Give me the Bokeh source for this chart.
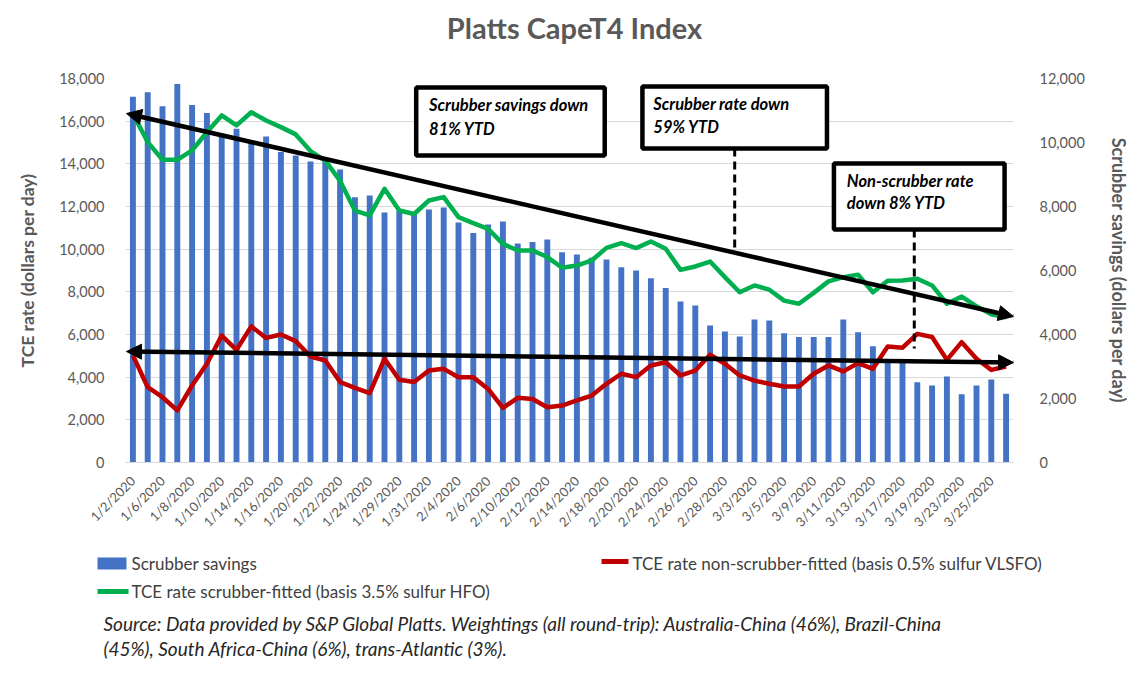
import math
from bokeh.plotting import figure
from bokeh.models import (Range1d, LinearAxis, FixedTicker, NumeralTickFormatter,
                          BoxAnnotation, Label, Arrow, NormalHead)
from bokeh.layouts import column
from bokeh.embed import file_html
from bokeh.resources import INLINE
from bokeh.core.properties import value

dates = ["1/2/2020", "1/3/2020", "1/6/2020", "1/7/2020", "1/8/2020", "1/9/2020", "1/10/2020",
         "1/13/2020", "1/14/2020", "1/15/2020", "1/16/2020", "1/17/2020", "1/20/2020", "1/21/2020",
         "1/22/2020", "1/23/2020", "1/24/2020", "1/27/2020", "1/29/2020", "1/30/2020", "1/31/2020",
         "2/3/2020", "2/4/2020", "2/5/2020", "2/6/2020", "2/7/2020", "2/10/2020", "2/11/2020",
         "2/12/2020", "2/13/2020", "2/14/2020", "2/17/2020", "2/18/2020", "2/19/2020", "2/20/2020",
         "2/21/2020", "2/24/2020", "2/25/2020", "2/26/2020", "2/27/2020", "2/28/2020", "3/2/2020",
         "3/3/2020", "3/4/2020", "3/5/2020", "3/6/2020", "3/9/2020", "3/10/2020", "3/11/2020",
         "3/12/2020", "3/13/2020", "3/16/2020", "3/17/2020", "3/18/2020", "3/19/2020", "3/20/2020",
         "3/23/2020", "3/24/2020", "3/25/2020", "3/26/2020"]

scrubber_savings = [11430, 11570, 11130, 11830, 11170, 10920, 10270, 10430, 10010, 10190,
                    9700, 9590, 9410, 9430, 9160, 8290, 8340, 7810, 7870, 7800,
                    7910, 7970, 7500, 7170, 7440, 7530, 6840, 6890, 6970, 6570,
                    6500, 6400, 6340, 6100, 6000, 5760, 5450, 5030, 4910, 4280,
                    4090, 3940, 4470, 4440, 4040, 3920, 3920, 3920, 4470, 4070,
                    3630, 3170, 3170, 2510, 2410, 2690, 2130, 2410, 2590, 2150]

tce_scrubber = [16340, 15020, 14190, 14190, 14630, 15480, 16270, 15800, 16420, 16030,
                15720, 15380, 14600, 14150, 13200, 11810, 11580, 12830, 11810, 11650,
                12280, 12440, 11500, 11220, 10950, 10250, 9940, 9940, 9630, 9130,
                9230, 9470, 10060, 10280, 10050, 10360, 10020, 9030, 9190, 9420,
                8690, 7980, 8300, 8100, 7590, 7440, 7950, 8490, 8690, 8800,
                7980, 8520, 8530, 8610, 8300, 7440, 7780, 7320, 6950, 6810]

tce_non_scrubber = [5020, 3530, 3060, 2440, 3610, 4630, 5950, 5280, 6380, 5840,
                    6000, 5690, 4970, 4780, 3770, 3500, 3250, 4860, 3880, 3770,
                    4310, 4390, 4000, 4000, 3450, 2560, 3030, 2980, 2590, 2670,
                    2910, 3140, 3690, 4160, 4000, 4550, 4700, 4080, 4310, 5050,
                    4630, 4080, 3840, 3690, 3560, 3560, 4160, 4550, 4270, 4660,
                    4390, 5440, 5380, 6030, 5880, 4810, 5640, 4860, 4340, 4500]

left_ticks = [0, 2000, 4000, 6000, 8000, 10000, 12000, 14000, 16000, 18000]
right_ticks = [0, 2000, 4000, 6000, 8000, 10000, 12000]

title_text = "Platts CapeT4 Index"
legend_items = ["Scrubber savings", "TCE rate non-scrubber-fitted (basis 0.5% sulfur VLSFO)",
                "TCE rate scrubber-fitted (basis 3.5% sulfur HFO)"]
source_lines = ["Source: Data provided by S&P Global Platts. Weightings (all round-trip): Australia-China (46%), Brazil-China",
                "(45%), South Africa-China (6%), trans-Atlantic (3%)."]
callouts = [("Scrubber savings down", "81% YTD"),
            ("Scrubber rate down", "59% YTD"),
            ("Non-scrubber rate", "down 8% YTD")]

FONT = "Lato"
GREY = "#595959"
BLUE = "#4472C4"
GREEN = "#00B050"
RED = "#C00000"

n = len(dates)
idx = list(range(n))

W = 1132
HT = 50                     # title strip height
FL, FT, FW, FH = 125, 78, 895, 384      # plot frame in page pixels
HP = 545 - HT               # main plot height (page y 50..545)
HB = 127                    # legend/source strip (page y 545..672)
YMAX = 18000


def dx(px):
    """page pixel x -> data x (category index)"""
    return (px - FL) / (FW / n) - 0.5


def dy(py):
    """page pixel y -> left-axis data y"""
    return (FT + FH - py) * YMAX / FH


def strip(h, y0):
    f = figure(width=W, height=h, output_backend="svg", toolbar_location=None,
               x_range=Range1d(0, W), y_range=Range1d(y0 + h, y0), min_border=0)
    f.axis.visible = False
    f.grid.visible = False
    f.outline_line_color = None
    f.border_fill_color = "white"
    f.background_fill_color = "white"
    f.frame_align = False
    return f


# ---- title strip
t = strip(HT, 0)
t.text(x=[574], y=[27], text=[title_text], text_font=value(FONT), text_font_size="29px",
       text_font_style="bold", text_color=GREY, text_baseline="middle", text_align="center")

# ---- main plot
p = figure(width=W, height=HP, output_backend="svg", toolbar_location=None,
           x_range=Range1d(-0.5, n - 0.5), y_range=Range1d(0, YMAX),
           min_border_left=FL, min_border_right=W - FL - FW,
           min_border_top=FT - HT, min_border_bottom=545 - FT - FH)
p.frame_align = False
p.extra_y_ranges = {"right": Range1d(0, 12000)}
p.outline_line_color = None
p.background_fill_color = "white"
p.border_fill_color = "white"

xa = p.xaxis[0]
xa.ticker = FixedTicker(ticks=idx[::2])
xa.major_label_overrides = {i: dates[i] for i in idx[::2]}
xa.major_label_orientation = math.pi / 4
xa.major_label_text_font = FONT
xa.major_label_text_font_size = "13px"
xa.major_label_text_color = GREY
xa.major_tick_line_color = None
xa.minor_tick_line_color = None
xa.axis_line_color = "#D9D9D9"
xa.major_label_standoff = 10

ya = p.yaxis[0]
ya.ticker = FixedTicker(ticks=left_ticks)
ya.formatter = NumeralTickFormatter(format="0,0")
ya.axis_line_color = None
ya.major_tick_line_color = None
ya.minor_tick_line_color = None
ya.major_label_text_font = FONT
ya.major_label_text_font_size = "14.5px"
ya.major_label_text_color = GREY
ya.major_label_standoff = 15
ya.axis_label = "TCE rate (dollars per day)"
ya.axis_label_text_font = FONT
ya.axis_label_text_font_size = "17.5px"
ya.axis_label_text_font_style = "bold"
ya.axis_label_text_color = GREY
ya.axis_label_standoff = 18

ra = LinearAxis(y_range_name="right", ticker=FixedTicker(ticks=right_ticks),
                formatter=NumeralTickFormatter(format="0,0"))
ra.axis_line_color = None
ra.major_tick_line_color = None
ra.minor_tick_line_color = None
ra.major_label_text_font = FONT
ra.major_label_text_font_size = "14.5px"
ra.major_label_text_color = GREY
ra.major_label_standoff = 20
ra.axis_label = "Scrubber savings (dollars per day)"
ra.axis_label_text_font = FONT
ra.axis_label_text_font_size = "18px"
ra.axis_label_text_font_style = "bold"
ra.axis_label_text_color = GREY
ra.axis_label_standoff = 20
p.add_layout(ra, "right")

p.xgrid.grid_line_color = None
p.ygrid.grid_line_color = "#D9D9D9"
p.ygrid.grid_line_width = 1

p.vbar(x=idx, top=scrubber_savings, width=0.4, y_range_name="right",
       fill_color=BLUE, line_color=None)
p.line(idx, tce_scrubber, line_color=GREEN, line_width=4.5, line_join="round")
p.line(idx, tce_non_scrubber, line_color=RED, line_width=4.5, line_join="round")

for (x0, y0, x1, y1) in [(126, 113, 1020, 316), (126, 351, 1020, 362)]:
    p.add_layout(Arrow(x_start=dx(x0), y_start=dy(y0), x_end=dx(x1), y_end=dy(y1),
                       line_color="black", line_width=4.5,
                       start=NormalHead(size=15, fill_color="black", line_color="black"),
                       end=NormalHead(size=15, fill_color="black", line_color="black")))

conn = [(739, 148, 247), (920, 229, 348)]
p.segment(x0=[dx(c[0]) for c in conn], y0=[dy(c[1]) for c in conn],
          x1=[dx(c[0]) for c in conn], y1=[dy(c[2]) for c in conn],
          line_color="black", line_width=3, line_dash="8 5")

box_px = [(418, 608, 87, 155, 431, 104, 128),
          (646, 832, 86, 148, 657, 103, 126),
          (839, 1011, 163, 229, 852, 180, 202)]
for (l, r, tp, b, tx, t1y, t2y) in box_px:
    p.add_layout(BoxAnnotation(left=dx(l), right=dx(r), top=dy(tp), bottom=dy(b),
                               fill_color="white", fill_alpha=1.0,
                               line_color="black", line_width=4.5, line_alpha=1.0))
for (l, r, tp, b, tx, t1y, t2y), (s1, s2) in zip(box_px, callouts):
    for txt, ty in [(s1, t1y), (s2, t2y)]:
        p.add_layout(Label(x=dx(tx), y=dy(ty), text=txt, text_font=FONT,
                           text_font_size="16.5px", text_font_style="bold italic",
                           text_color="black", text_baseline="middle", text_align="left"))

# ---- legend + source strip (page-pixel coordinates)
q = strip(HB, 545)
q.quad(left=[97], right=[126], top=[557], bottom=[569], fill_color=BLUE, line_color=None)
q.segment(x0=[601], y0=[561], x1=[628], y1=[561], line_color=RED, line_width=5)
q.segment(x0=[97], y0=[591], x1=[128], y1=[591], line_color=GREEN, line_width=5)
q.text(x=[131, 632, 131], y=[563, 563, 591], text=legend_items, text_font=value(FONT),
       text_font_size="17px", text_color="#404040", text_baseline="middle", text_align="left")
q.text(x=[103, 103], y=[623, 648], text=source_lines, text_font=value(FONT),
       text_font_size="19px", text_font_style="italic", text_color="#262626",
       text_baseline="middle", text_align="left")

layout = column(t, p, q, spacing=0)
open("out.html", "w").write(file_html(layout, INLINE))
